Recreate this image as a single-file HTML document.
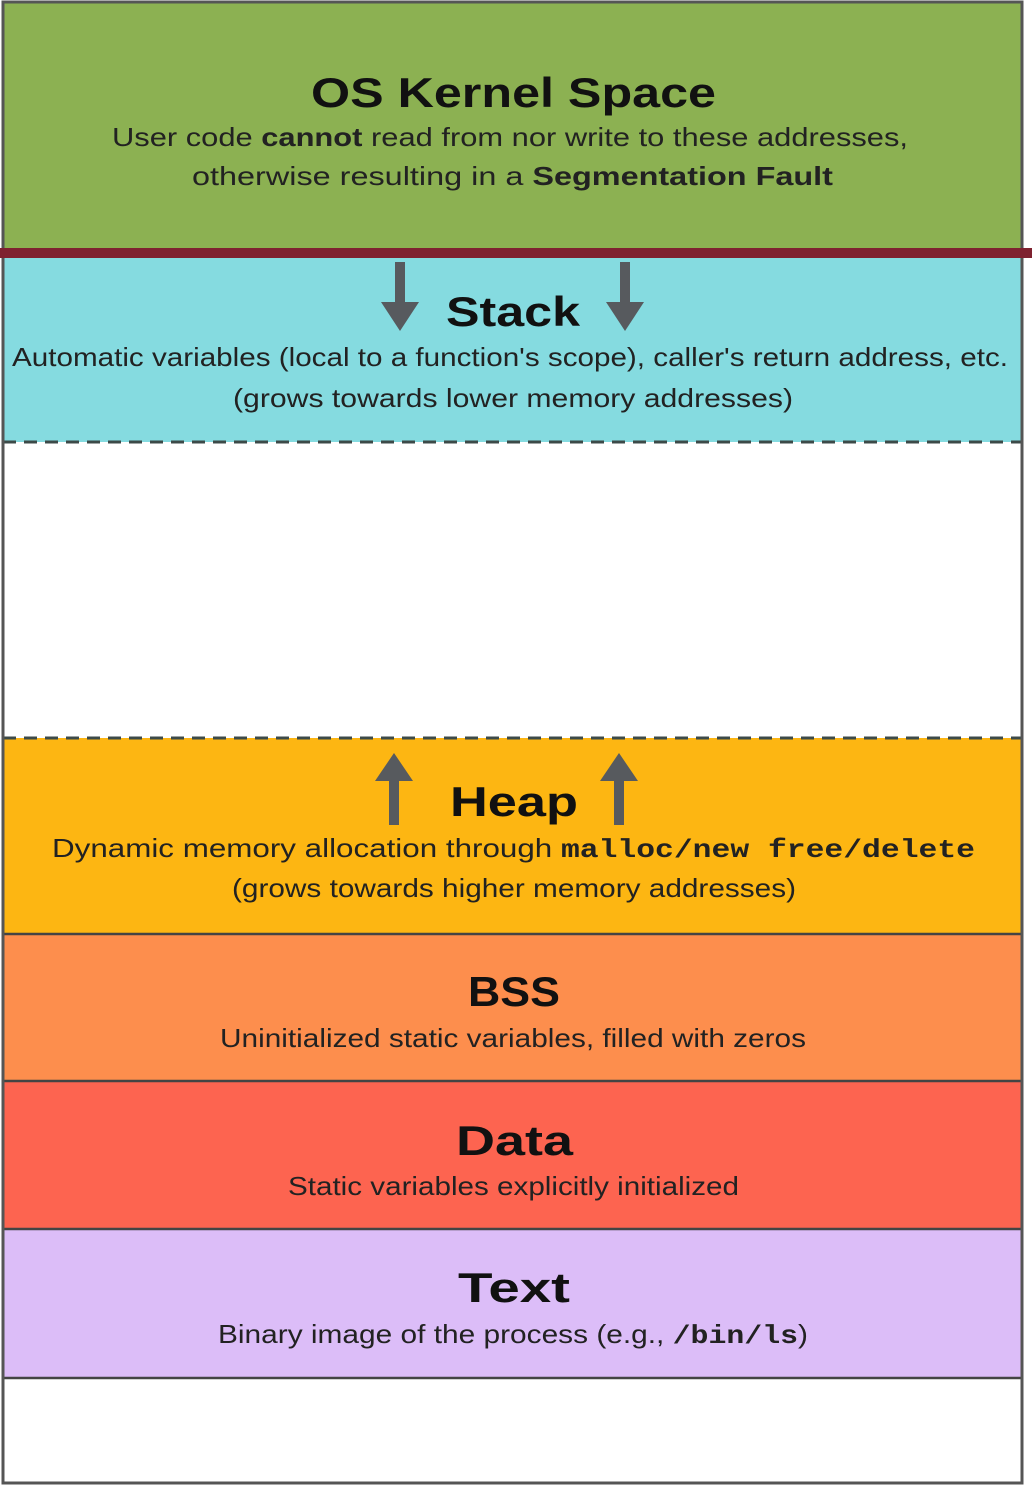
<!DOCTYPE html>
<html><head><meta charset="utf-8"><style>
html,body{margin:0;padding:0;background:#fff;width:1032px;height:1492px;overflow:hidden}
svg{display:block}
.t{font-family:"Liberation Sans",sans-serif;font-weight:bold;fill:#111}
.s{font-family:"Liberation Sans",sans-serif;fill:#222}
.m{font-family:"Liberation Mono",monospace;font-weight:bold}
</style></head><body>
<svg width="1032" height="1492" viewBox="0 0 1032 1492" xmlns="http://www.w3.org/2000/svg">
<rect x="0" y="0" width="1032" height="1492" fill="#fff"/>
<rect x="3" y="2" width="1019" height="248" fill="#8cb152"/>
<rect x="3" y="258" width="1019" height="184" fill="#85dbe0"/>
<rect x="3" y="738" width="1019" height="195" fill="#fdb612"/>
<rect x="3" y="935" width="1019" height="146" fill="#fd8e4d"/>
<rect x="3" y="1082" width="1019" height="147" fill="#fd6450"/>
<rect x="3" y="1230" width="1019" height="147" fill="#dcbdf8"/>
<g stroke="#444" stroke-width="2.5" fill="none">
<line x1="3" y1="934" x2="1022" y2="934"/>
<line x1="3" y1="1081" x2="1022" y2="1081"/>
<line x1="3" y1="1229" x2="1022" y2="1229"/>
<line x1="3" y1="1378" x2="1022" y2="1378"/>
</g>
<g stroke="#3c4a48" stroke-width="3" stroke-dasharray="13,8">
<line x1="3" y1="442" x2="1022" y2="442"/>
<line x1="3" y1="738" x2="1022" y2="738"/>
</g>
<rect x="3" y="2" width="1019" height="1481" fill="none" stroke="#555" stroke-width="3"/>
<rect x="0" y="248" width="1032" height="10" fill="#7f2230"/>
<g fill="#575a5e">
<path d="M395 262h10v40h14l-19 29-19-29h14z"/>
<path d="M620 262h10v40h14l-19 29-19-29h14z"/>
<path d="M389 825h10v-44h14l-19-28-19 28h14z"/>
<path d="M614 825h10v-44h14l-19-28-19 28h14z"/>
</g>
<text class="t" x="311" y="107" font-size="42" textLength="405" lengthAdjust="spacingAndGlyphs">OS Kernel Space</text>
<text class="s" x="112" y="146" font-size="26" textLength="796" lengthAdjust="spacingAndGlyphs">User code <tspan font-weight="bold">cannot</tspan> read from nor write to these addresses,</text>
<text class="s" x="192" y="185" font-size="26" textLength="641" lengthAdjust="spacingAndGlyphs">otherwise resulting in a <tspan font-weight="bold">Segmentation Fault</tspan></text>
<text class="t" x="446" y="326" font-size="42" textLength="134" lengthAdjust="spacingAndGlyphs">Stack</text>
<text class="s" x="12" y="366" font-size="26" textLength="996" lengthAdjust="spacingAndGlyphs">Automatic variables (local to a function's scope), caller's return address, etc.</text>
<text class="s" x="233" y="407" font-size="26" textLength="560" lengthAdjust="spacingAndGlyphs">(grows towards lower memory addresses)</text>
<text class="t" x="450" y="816" font-size="42" textLength="128" lengthAdjust="spacingAndGlyphs">Heap</text>
<text class="s" x="52" y="857" font-size="26" textLength="923" lengthAdjust="spacingAndGlyphs">Dynamic memory allocation through <tspan class="m">malloc/new free/delete</tspan></text>
<text class="s" x="232" y="897" font-size="26" textLength="564" lengthAdjust="spacingAndGlyphs">(grows towards higher memory addresses)</text>
<text class="t" x="468" y="1006" font-size="42" textLength="92" lengthAdjust="spacingAndGlyphs">BSS</text>
<text class="s" x="220" y="1047" font-size="26" textLength="586" lengthAdjust="spacingAndGlyphs">Uninitialized static variables, filled with zeros</text>
<text class="t" x="456" y="1155" font-size="42" textLength="117" lengthAdjust="spacingAndGlyphs">Data</text>
<text class="s" x="288" y="1195" font-size="26" textLength="451" lengthAdjust="spacingAndGlyphs">Static variables explicitly initialized</text>
<text class="t" x="458" y="1302" font-size="42" textLength="112" lengthAdjust="spacingAndGlyphs">Text</text>
<text class="s" x="218" y="1343" font-size="26" textLength="590" lengthAdjust="spacingAndGlyphs">Binary image of the process (e.g., <tspan class="m">/bin/ls</tspan>)</text>
</svg>
</body></html>
